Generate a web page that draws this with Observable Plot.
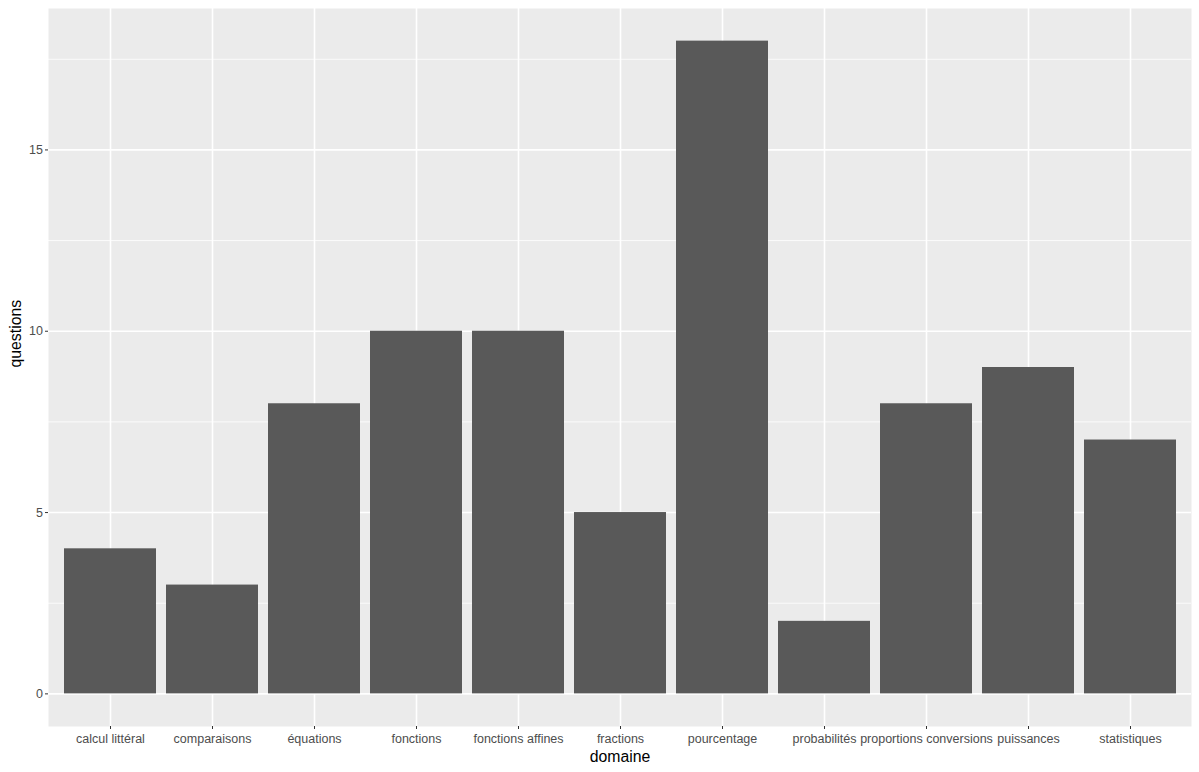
<!DOCTYPE html>
<html>
<head>
<meta charset="utf-8">
<script src="https://cdn.jsdelivr.net/npm/d3@7"></script>
<script src="https://cdn.jsdelivr.net/npm/@observablehq/plot@0.6"></script>
<style>
  html, body { margin: 0; padding: 0; background: #fff; }
  svg { display: block; }
</style>
</head>
<body>
<div id="chart"></div>
<script>
const categories = ["calcul littéral","comparaisons","équations","fonctions","fonctions affines","fractions","pourcentage","probabilités","proportions conversions","puissances","statistiques"];
const questions = [4,3,8,10,10,5,18,2,8,9,7];
const yTicks = [0,5,10,15];
const yMinor = [2.5,7.5,12.5,17.5];

const data = categories.map((d, i) => ({domaine: d, questions: questions[i]}));

const chart = Plot.plot({
  width: 1199,
  height: 772,
  marginLeft: 48,
  marginRight: 8,
  marginTop: 8,
  marginBottom: 46,
  style: {fontFamily: "Liberation Sans, Arial, sans-serif", background: "#fff"},
  x: {domain: categories, paddingInner: 0.1, paddingOuter: 0.15, align: 0.5, label: null},
  y: {domain: [-0.9, 18.9], label: null},
  marks: [
    Plot.frame({fill: "#EBEBEB", stroke: null}),
    Plot.ruleY(yMinor, {stroke: "#fff", strokeWidth: 0.8}),
    Plot.ruleY(yTicks, {stroke: "#fff", strokeWidth: 1.6}),
    Plot.ruleX(categories, {x: d => d, stroke: "#fff", strokeWidth: 1.6}),
    Plot.barY(data, {x: "domaine", y1: 0, y2: "questions", fill: "#595959"}),
    Plot.axisY(yTicks, {tickSize: 3, tickPadding: 2.5, stroke: "#333", fill: "#4d4d4d", fontSize: 12.5, label: null}),
    Plot.axisX({tickSize: 3, tickPadding: 5, stroke: "#333", fill: "#4d4d4d", fontSize: 12.5, label: null}),
    Plot.text(["domaine"], {frameAnchor: "bottom", dy: 30, text: d => d, fontSize: 15.8, fill: "#000", lineAnchor: "middle"}),
    Plot.text(["questions"], {frameAnchor: "left", dx: -33, rotate: -90, text: d => d, fontSize: 15.8, fill: "#000", lineAnchor: "middle"})
  ]
});
document.getElementById("chart").appendChild(chart);
</script>
</body>
</html>
